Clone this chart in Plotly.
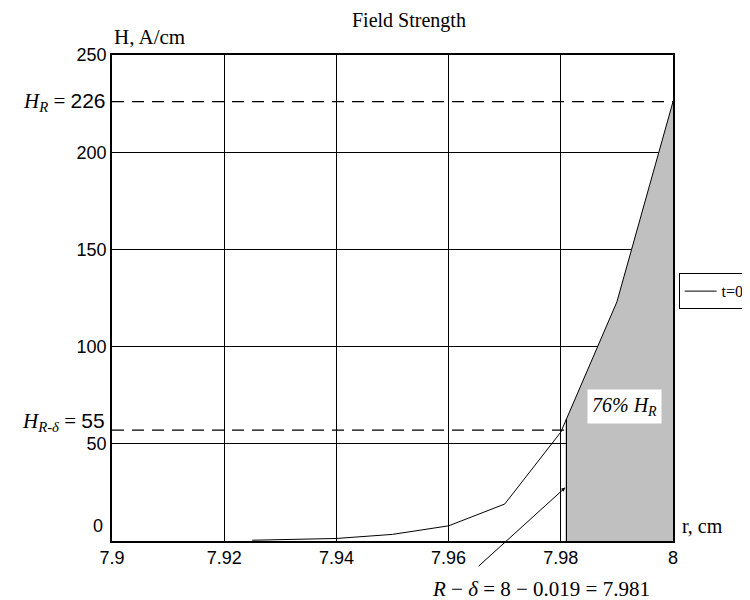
import numpy as np
import plotly.graph_objects as go

# ---- data ----
r_vals = [7.925, 7.93, 7.94, 7.95, 7.96, 7.97, 7.98, 7.99, 8.0]
H_vals = [0.4, 0.6, 1.3, 3.4, 7.8, 19.0, 56.0, 123.0, 226.0]
series_name = "t=0"

x_ticks = [7.9, 7.92, 7.94, 7.96, 7.98, 8.0]
x_tick_text = ["7.9", "7.92", "7.94", "7.96", "7.98", "8"]
y_ticks = [50, 100, 150, 200, 250]
y_tick_text = ["50", "100", "150", "200", "250"]

H_R = 226
H_R_delta_label = 55
H_R_delta_level = 57
R = 8
delta = 0.019
r_delta = 7.981
percent_text = "76%"

SERIF = "Liberation Serif"
SANS = "Liberation Sans"

r_arr = np.array(r_vals)
H_arr = np.array(H_vals)
h_at_rd = float(np.interp(r_delta, r_arr, H_arr))
mask = r_arr > r_delta
fill_x = [r_delta, r_delta] + list(r_arr[mask]) + [R]
fill_y = [0, h_at_rd] + list(H_arr[mask]) + [0]

fig = go.Figure()

fig.add_trace(go.Scatter(
    x=fill_x, y=fill_y, fill="toself", fillcolor="#c0c0c0",
    mode="lines", line=dict(width=0), showlegend=False, hoverinfo="skip"))

fig.add_trace(go.Scatter(
    x=r_vals, y=H_vals, mode="lines", name=series_name,
    line=dict(color="black", width=1)))

# vertical line at R - delta
fig.add_trace(go.Scatter(
    x=[r_delta, r_delta], y=[0, h_at_rd], mode="lines",
    line=dict(color="black", width=1.2), showlegend=False, hoverinfo="skip"))

# dashed reference lines
fig.add_shape(type="line", xref="x", yref="y", x0=7.9, x1=R, y0=H_R, y1=H_R,
              line=dict(color="black", width=1.2, dash="12px,8px"))
fig.add_shape(type="line", xref="x", yref="y", x0=7.9, x1=r_delta,
              y0=H_R_delta_level, y1=H_R_delta_level,
              line=dict(color="black", width=1.2, dash="12px,8px"))

ann = []
# title
ann.append(dict(text="Field Strength", xref="paper", yref="paper", x=0.53, y=1.072,
                xanchor="center", yanchor="middle", showarrow=False,
                font=dict(family=SERIF, size=20, color="black")))
# axis titles
ann.append(dict(text="H, A/cm", xref="paper", yref="paper", x=0.0, y=1.038,
                xanchor="left", yanchor="middle", showarrow=False,
                font=dict(family=SERIF, size=21, color="black")))
ann.append(dict(text="r, cm", xref="paper", yref="paper", x=1.012, y=0.03,
                xanchor="left", yanchor="middle", showarrow=False,
                font=dict(family=SERIF, size=20, color="black")))
# zero tick label (shifted up as in reference)
ann.append(dict(text="0", xref="paper", yref="y", x=-0.012, y=7.5,
                xanchor="right", yanchor="middle", showarrow=False,
                font=dict(family=SANS, size=18, color="black")))
# H_R label
ann.append(dict(text="<i>H</i><sub><i>R</i></sub> = <span style='font-family:Liberation Sans'>%d</span>" % H_R,
                xref="paper", yref="y", x=-0.007, y=H_R,
                xanchor="right", yanchor="middle", showarrow=False,
                font=dict(family=SERIF, size=21, color="black")))
# H_{R-delta} label
ann.append(dict(text="<i>H</i><sub><i>R-δ</i></sub> = <span style='font-family:Liberation Sans'>%d</span>" % H_R_delta_label,
                xref="paper", yref="y", x=-0.009, y=61,
                xanchor="right", yanchor="middle", showarrow=False,
                font=dict(family=SERIF, size=21, color="black")))
# percentage label
ann.append(dict(text="<i>%s H</i><sub><i>R</i></sub>" % percent_text,
                xref="x", yref="y", x=7.9913, y=69,
                xanchor="center", yanchor="middle", showarrow=False,
                bgcolor="white", borderpad=4,
                font=dict(family=SERIF, size=20, color="black")))
# R - delta arrow
ann.append(dict(text="", xref="x", yref="y", x=r_delta - 0.0002, y=27.5,
                axref="x", ayref="y", ax=7.9651, ay=-13.6,
                showarrow=True, arrowhead=2, arrowsize=0.8, arrowwidth=1,
                arrowcolor="black"))
ann.append(dict(text="<i>R</i> − <i>δ</i> = %d − %.3f = %.3f" % (R, delta, r_delta),
                xref="paper", yref="paper", x=0.765, y=-0.098,
                xanchor="center", yanchor="middle", showarrow=False,
                font=dict(family=SERIF, size=21, color="black")))

fig.update_layout(
    width=750, height=600,
    margin=dict(l=104, r=85, t=47, b=67, autoexpand=False),
    paper_bgcolor="white", plot_bgcolor="white",
    showlegend=True,
    legend=dict(x=1.01, y=0.551, xanchor="left", yanchor="top",
                bordercolor="black", borderwidth=1, bgcolor="white",
                font=dict(family=SERIF, size=16, color="black"),
                tracegroupgap=0, itemwidth=32),
    annotations=ann,
    xaxis=dict(range=[7.9, 8.0], tickvals=x_ticks, ticktext=x_tick_text,
               showgrid=True, gridcolor="black", gridwidth=1,
               showline=True, linecolor="black", linewidth=1.5, mirror=True,
               ticks="", zeroline=False, automargin=False,
               tickfont=dict(family=SANS, size=18, color="black")),
    yaxis=dict(range=[0, 250], tickvals=y_ticks, ticktext=y_tick_text,
               showgrid=True, gridcolor="black", gridwidth=1,
               showline=True, linecolor="black", linewidth=1.5, mirror=True,
               ticks="", zeroline=False, automargin=False,
               tickfont=dict(family=SANS, size=18, color="black")),
)

fig.write_html("out.html")
